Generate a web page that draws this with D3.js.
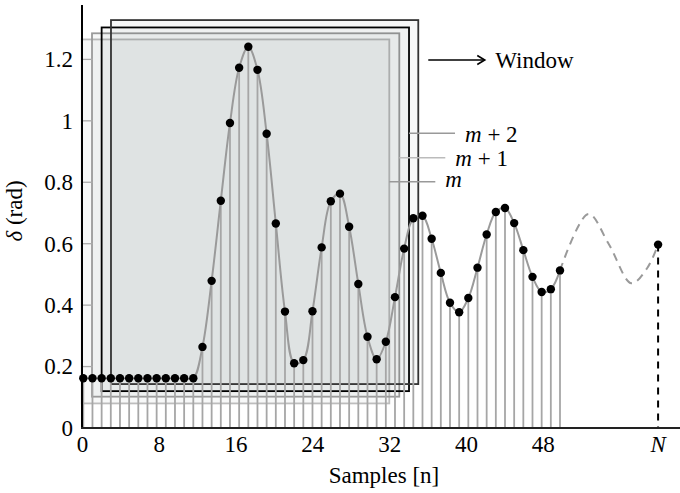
<!DOCTYPE html>
<html>
<head>
<meta charset="utf-8">
<script src="https://cdn.jsdelivr.net/npm/d3@7"></script>
<style>
body { margin: 0; background: #fff; }
svg { display: block; font-family: "Liberation Serif", "Times New Roman", serif; }
</style>
</head>
<body>
<svg id="canvas" width="680" height="493"></svg>
<script>
// sampled delta values, n = 0 .. 52
var samples = [0.162, 0.162, 0.162, 0.162, 0.162, 0.162, 0.162, 0.162, 0.162, 0.162, 0.162, 0.162, 0.162,
	0.264, 0.479, 0.74, 0.993, 1.173, 1.241, 1.166, 0.958, 0.666, 0.379, 0.211, 0.221, 0.38, 0.588,
	0.738, 0.763, 0.655, 0.469, 0.297, 0.224, 0.281, 0.426, 0.584, 0.683, 0.691, 0.616, 0.505, 0.408,
	0.377, 0.423, 0.522, 0.63, 0.703, 0.716, 0.667, 0.579, 0.492, 0.443, 0.452, 0.513];

// dashed continuation up to N
var tailIndex = [52, 55.1, 57.3, 59.8, 61.5, 62.7];
var tailValues = [0.513, 0.697, 0.60, 0.471, 0.52, 0.597];
var nIndex = 62.7;
var nValue = 0.597;

var xTicks = [0, 8, 16, 24, 32, 40, 48];
var yTicks = [0, 0.2, 0.4, 0.6, 0.8, 1, 1.2];

// sliding windows (sample index / value units), back to front
var windowStart = [-0.17, 0.95, 2.0, 3.02];
var windowEnd = [33.38, 34.47, 35.53, 36.54];
var windowLow = [0.080, 0.102, 0.120, 0.143];
var windowHigh = [1.265, 1.285, 1.304, 1.328];
var windowStroke = ["#bdbdbd", "#9a9a9a", "#000", "#333"];
var windowLabels = ["m", "m + 1", "m + 2"];

var svg = d3.select("#canvas");
var left = 82, bottom = 428;
var fs = 23;

var y = d3.scaleLinear().domain([0, 1.2]).range([bottom, 59.4]);
var xs = d3.scaleLinear().domain([0, 52]).range([83.3, 560]);
var xt = d3.scaleLinear().domain([0, 48]).range([left, 542.7]);

// windows
var wins = windowStart.map(function(d, i){
	return {x0: windowStart[i], x1: windowEnd[i], lo: windowLow[i], hi: windowHigh[i], stroke: windowStroke[i]};
});
svg.append("g").selectAll("rect")
	.data(wins)
	.enter()
	.append("rect")
		.attr("x", function(d){ return xs(d.x0); })
		.attr("y", function(d){ return y(d.hi); })
		.attr("width", function(d){ return xs(d.x1) - xs(d.x0); })
		.attr("height", function(d){ return y(d.lo) - y(d.hi); })
		.attr("fill", "#233")
		.attr("fill-opacity", 0.036)
		.attr("stroke", function(d){ return d.stroke; })
		.attr("stroke-width", 1.8);

// grey inner ticks on the y axis
svg.append("g").selectAll("line")
	.data(yTicks.slice(1))
	.enter()
	.append("line")
		.attr("x1", left).attr("x2", left + 11)
		.attr("y1", function(d){ return y(d); })
		.attr("y2", function(d){ return y(d); })
		.attr("stroke", "#aaa")
		.attr("stroke-width", 1.3);

// stems
svg.append("g").selectAll("line")
	.data(samples)
	.enter()
	.append("line")
		.attr("x1", function(d, i){ return xs(i); })
		.attr("x2", function(d, i){ return xs(i); })
		.attr("y1", function(d){ return y(d); })
		.attr("y2", y(0))
		.attr("stroke", "#a6a6a6")
		.attr("stroke-width", 1.8);

// smooth curve
var line = d3.line().curve(d3.curveCatmullRom.alpha(0.5));
svg.append("path")
	.attr("d", line(samples.map(function(d, i){ return [xs(i), y(d)]; })))
	.attr("style", "stroke-width: 2; fill: none; stroke: #9a9a9a;");

svg.append("path")
	.attr("d", line(tailIndex.map(function(d, i){ return [xs(d), y(tailValues[i])]; })))
	.attr("style", "stroke-width: 2; fill: none; stroke: #9a9a9a; stroke-dasharray: 8 6;");

// N stem
svg.append("line")
	.attr("x1", xs(nIndex)).attr("x2", xs(nIndex))
	.attr("y1", y(nValue)).attr("y2", y(0))
	.attr("stroke", "#000")
	.attr("stroke-width", 2)
	.attr("stroke-dasharray", "7 6");

// dots
svg.append("g").selectAll("circle")
	.data(samples)
	.enter()
	.append("circle")
		.attr("cx", function(d, i){ return xs(i); })
		.attr("cy", function(d){ return y(d); })
		.attr("r", 4.2)
		.attr("fill", "#000");
svg.append("circle")
	.attr("cx", xs(nIndex)).attr("cy", y(nValue)).attr("r", 4.2).attr("fill", "#000");

// axes
svg.append("line")
	.attr("x1", left).attr("x2", left).attr("y1", 5).attr("y2", bottom)
	.attr("stroke", "#000").attr("stroke-width", 2);
svg.append("line")
	.attr("x1", left - 1).attr("x2", 680).attr("y1", bottom).attr("y2", bottom)
	.attr("stroke", "#222").attr("stroke-width", 2);

var xAxis = svg.append("g")
	.attr("transform", "translate(0," + bottom + ")")
	.call(d3.axisBottom(xt).tickValues(xTicks).tickSize(0).tickPadding(8).tickFormat(function(d){ return String(d); }));
var yAxis = svg.append("g")
	.attr("transform", "translate(" + left + ",0)")
	.call(d3.axisLeft(y).tickValues(yTicks).tickSize(0).tickPadding(9).tickFormat(function(d){ return String(d); }));
[xAxis, yAxis].forEach(function(g){
	g.attr("font-family", null).attr("font-size", null);
	g.select(".domain").remove();
	g.selectAll("text")
		.attr("font-size", fs)
		.attr("fill", "#000");
});

svg.append("text")
	.attr("x", xs(nIndex)).attr("y", bottom + 8)
	.attr("dy", "0.71em")
	.attr("text-anchor", "middle")
	.attr("font-size", fs)
	.attr("font-style", "italic")
	.text("N");

// axis titles
svg.append("text")
	.attr("x", 384).attr("y", 483)
	.attr("text-anchor", "middle")
	.attr("font-size", fs)
	.text("Samples [n]");

var yl = svg.append("text")
	.attr("transform", "translate(22,211) rotate(-90)")
	.attr("text-anchor", "middle")
	.attr("font-size", fs);
yl.append("tspan").attr("font-style", "italic").text("δ");
yl.append("tspan").text(" (rad)");

// window labels
var labelLineY = [181.7, 157.7, 133.3];
var labelTextY = [187, 166, 142];
windowLabels.forEach(function(lab, i){
	var x0 = xs(windowEnd[i]);
	svg.append("line")
		.attr("x1", x0).attr("x2", x0 + 46)
		.attr("y1", labelLineY[i]).attr("y2", labelLineY[i])
		.attr("stroke", i == 1 ? "#bbb" : "#999")
		.attr("stroke-width", 1.5);
	var t = svg.append("text")
		.attr("x", x0 + 56).attr("y", labelTextY[i])
		.attr("font-size", fs);
	t.append("tspan").attr("font-style", "italic").text("m");
	if (lab.length > 1)
		t.append("tspan").text(lab.slice(1));
});

// window arrow
var ax = xs(windowEnd[3]);
svg.append("line")
	.attr("x1", ax + 10).attr("x2", ax + 66).attr("y1", 60).attr("y2", 60)
	.attr("stroke", "#000").attr("stroke-width", 1.6);
svg.append("path")
	.attr("d", "M" + (ax + 59) + ",55.5 L" + (ax + 66.5) + ",60 L" + (ax + 59) + ",64.5")
	.attr("style", "stroke-width: 1.6; fill: none; stroke: #000;");
svg.append("text")
	.attr("x", ax + 77).attr("y", 68)
	.attr("font-size", fs)
	.text("Window");
</script>
</body>
</html>
